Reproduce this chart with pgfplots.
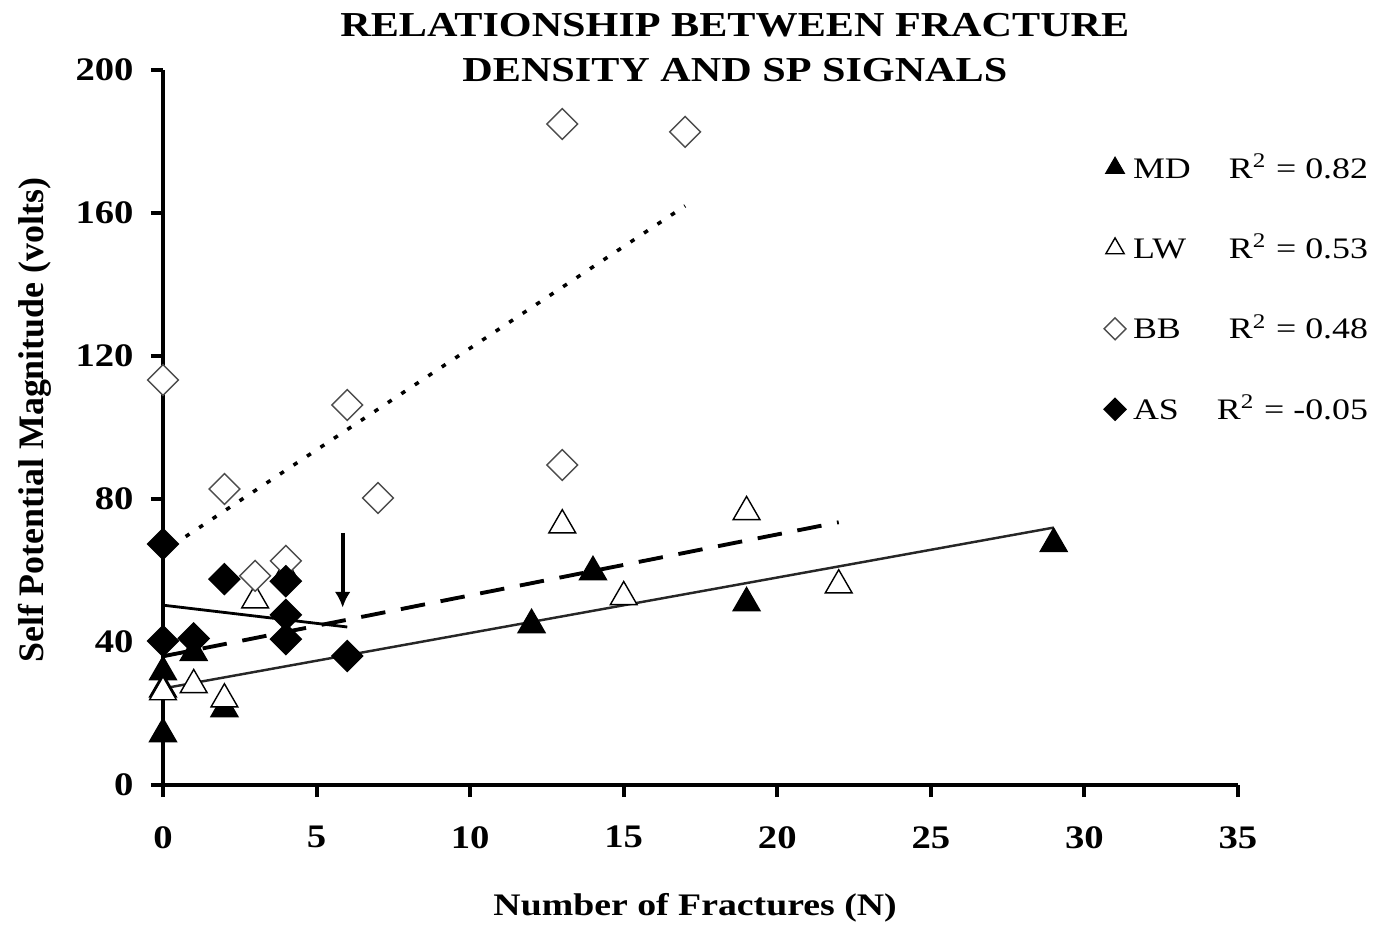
\documentclass[border=0pt]{standalone}
\usepackage{fontspec}
\setmainfont{Liberation Serif}
\usepackage{pgfplots}
\pgfplotsset{compat=1.18}
\usetikzlibrary{arrows.meta}
\begin{document}
\begin{tikzpicture}
\path[use as bounding box] (0,0) rectangle (13.76cm,9.26cm);
\begin{axis}[
  at={(1.63cm,1.41cm)}, anchor=south west,
  scale only axis, width=10.75cm, height=7.15cm,
  xmin=0, xmax=35, ymin=0, ymax=200,
  axis x line*=bottom, axis y line*=left,
  axis line style={line width=1.1pt},
  xtick={0,5,...,35}, ytick={0,40,...,200},
  tick align=outside, major tick length=0.12cm,
  every tick/.style={black, line width=1.1pt},
  /pgf/number format/assume math mode=true,
  ticklabel style={font=\fontsize{11}{13}\selectfont\bfseries, yscale=0.85},
  xticklabel style={yshift=-0.22cm},
  yticklabel style={xshift=-0.05cm},
  clip=false,
  xlabel={Number of Fractures (N)},
  ylabel={Self Potential Magnitude (volts)},
  xlabel style={font=\fontsize{10.75}{13}\selectfont\bfseries, yscale=0.83,
     at={(axis description cs:0.495,-0.172)}, anchor=center},
  ylabel style={font=\fontsize{10.2}{12}\selectfont\bfseries,
     at={(axis description cs:-0.119,0.51)}, anchor=center},
  title={RELATIONSHIP BETWEEN FRACTURE\\DENSITY AND SP SIGNALS},
  title style={font=\fontsize{12}{15.4}\selectfont\bfseries, align=center,
     at={(axis description cs:0.532,1.002)}, anchor=center, yscale=0.83},
  legend style={draw=none, fill=none, at={(axis description cs:0.865,0.902)},
     anchor=north west, font=\fontsize{10.2}{12}\selectfont, row sep=0.40cm,
     nodes={yscale=0.83}},
  legend cell align=left,
  legend image code/.code={\draw[#1] plot coordinates {(0.15cm,0cm)};},
]
% MD
\addplot[only marks, mark=triangle*, mark size=4.4pt, mark options={fill=black, draw=black, line width=0.4pt},
  legend image post style={mark size=3pt}]
  coordinates {(0,14.3)(0,26.8)(0,31.6)(1,37)(2,21.3)(12,44.8)(14,59.6)(19,50.9)(29,67.5)};
\addlegendentry{\makebox[2.35cm][l]{MD\hfill R\textsuperscript{2} = 0.82}}
% LW
\addplot[only marks, mark=triangle*, mark size=4.4pt, mark options={fill=white, draw=black, line width=0.4pt},
  legend image post style={mark size=3pt}]
  coordinates {(0,26)(1,28)(2,24)(3,51.7)(4,59)(13,72.7)(15,52.6)(19,76.4)(22,55.9)};
\addlegendentry{\makebox[2.35cm][l]{LW\hfill R\textsuperscript{2} = 0.53}}
% BB
\addplot[only marks, mark=square*, mark size=3.1pt, mark options={rotate=45, fill=white, draw=black!70, line width=0.4pt},
  legend image post style={mark size=2.2pt}]
  coordinates {(0,113.3)(2,82.8)(3,58.5)(4,62.7)(6,106.3)(7,80.3)(13,89.5)(13,184.9)(17,182.7)};
\addlegendentry{\makebox[2.35cm][l]{BB\hfill R\textsuperscript{2} = 0.48}}
% AS
\addplot[only marks, mark=square*, mark size=3.1pt, mark options={rotate=45, fill=black, draw=black, line width=0.4pt},
  legend image post style={mark size=2.2pt}]
  coordinates {(0,67.4)(0,40.3)(1,41)(2,57.6)(4,57)(4,47.6)(4,40.8)(6,36.1)};
\addlegendentry{\makebox[2.35cm][l]{AS\hfill R\textsuperscript{2} = -0.05}}
% trendlines
\addplot[forget plot, black!85, line width=0.7pt] coordinates {(0,27)(29,72)};
\addplot[forget plot, black, line width=1.1pt, dash pattern=on 7pt off 4.5pt] coordinates {(0,36)(22,73.5)};
\addplot[forget plot, black, line width=1pt, dash pattern=on 1.3pt off 3.3pt] coordinates {(0.3,67)(17,162)};
\addplot[forget plot, black, line width=0.8pt] coordinates {(0,50.3)(6,44.2)};
% arrow
\addplot[forget plot, black, line width=1.2pt, -{Latex[length=4.5pt,width=4.5pt]}] coordinates {(5.85,70.5)(5.85,49.6)};
\end{axis}
\end{tikzpicture}
\end{document}
